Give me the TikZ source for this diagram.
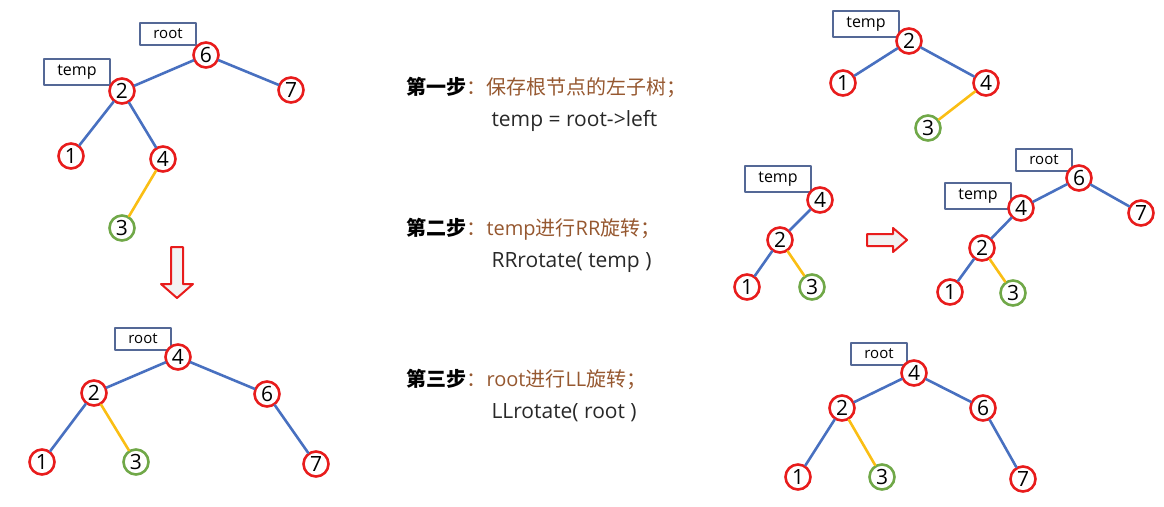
\documentclass[tikz,border=0pt]{standalone}
\usepackage{fontspec}
\newfontfamily\cjk{Noto Sans CJK SC}
\newfontfamily\latin{Open Sans}
\usetikzlibrary{positioning}
\definecolor{nodered}{RGB}{232,28,28}
\definecolor{leafgreen}{RGB}{112,168,72}
\definecolor{edgeblue}{RGB}{72,112,192}
\definecolor{edgegold}{RGB}{250,190,20}
\definecolor{boxblue}{RGB}{84,104,150}
\definecolor{stepbrown}{RGB}{150,88,48}
\definecolor{codegray}{RGB}{40,40,40}

\begin{document}
\begin{tikzpicture}[x=1pt,y=-1pt, line cap=round, line join=round,
  num/.style={circle, draw=nodered, line width=2.6pt, fill=white, minimum size=25pt,
    inner sep=0pt, font=\latin\fontsize{21}{21}\selectfont},
  leaf/.style={num, draw=leafgreen},
  tag/.style={draw=boxblue, line width=1.2pt, fill=white, minimum width=66pt,
    minimum height=26pt, inner sep=0pt, font=\latin\fontsize{16}{16}\selectfont},
  rtag/.style={tag, minimum width=56pt, minimum height=22pt,
    font=\latin\fontsize{15}{15}\selectfont},
  blue/.style={draw=edgeblue, line width=2.6pt},
  gold/.style={draw=edgegold, line width=2.6pt},
  stepline/.style={anchor=west, font=\cjk\fontsize{20}{20}\selectfont},
  codeline/.style={anchor=west, text=codegray, font=\latin\fontsize{21}{21}\selectfont},
  hollow/.style={draw=nodered, line width=2pt, fill=gray!10}]
\useasboundingbox (0,0) rectangle (1164,506);

% Tree before (top left)
\node[rtag] (aroot) at (168,34) {root};
\node[tag] (atemp) at (77,72) {temp};
\node[num] (a6) at (206,55) {6};
\node[num] (a2) at (122,91) {2};
\node[num] (a7) at (291,90) {7};
\node[num] (a1) at (71,156) {1};
\node[num] (a4) at (163,159) {4};
\node[leaf] (a3) at (122,228) {3};
\draw[blue] (a6) -- (a2);
\draw[blue] (a6) -- (a7);
\draw[blue] (a2) -- (a1);
\draw[blue] (a2) -- (a4);
\draw[gold] (a4) -- (a3);

% Down arrow
\draw[hollow] (171,247) -- (183,247) -- (183,284) -- (193,284) -- (177,298)
  -- (161,284) -- (171,284) -- cycle;

% Tree after (bottom left)
\node[rtag] (broot) at (143,339) {root};
\node[num] (b4) at (178,357) {4};
\node[num] (b2) at (94,393) {2};
\node[num] (b6) at (267,394) {6};
\node[num] (b1) at (42,462) {1};
\node[leaf] (b3) at (136,462) {3};
\node[num] (b7) at (316,464) {7};
\draw[blue] (b4) -- (b2);
\draw[blue] (b4) -- (b6);
\draw[blue] (b2) -- (b1);
\draw[gold] (b2) -- (b3);
\draw[blue] (b6) -- (b7);

% Steps
\node[stepline] (s1) at (403,87) {{\bfseries 第一步}\textcolor{stepbrown}{：保存根节点的左子树；}};
\node[codeline] (c1) at (488,121) {temp = root->left};
\node[stepline] (s2) at (403,229) {{\bfseries 第二步}\textcolor{stepbrown}{：{\latin temp}进行{\latin RR}旋转；}};
\node[codeline] (c2) at (488,263) {RRrotate( temp )};
\node[stepline] (s3) at (403,379) {{\bfseries 第三步}\textcolor{stepbrown}{：{\latin root}进行{\latin LL}旋转；}};
\node[codeline] (c3) at (488,413) {LLrotate( root )};

% Step 1 (top right)
\node[tag] (ctemp) at (866,24) {temp};
\node[num] (c2n) at (909,41) {2};
\node[num] (c1n) at (843,83) {1};
\node[num] (c4n) at (986,83) {4};
\node[leaf] (c3n) at (928,128) {3};
\draw[blue] (c2n) -- (c1n);
\draw[blue] (c2n) -- (c4n);
\draw[gold] (c4n) -- (c3n);

% Step 2, rotated subtree
\node[tag] (dtemp) at (778,179) {temp};
\node[num] (d4) at (820,200) {4};
\node[num] (d2) at (780,240) {2};
\node[num] (d1) at (747,287) {1};
\node[leaf] (d3) at (812,287) {3};
\draw[blue] (d4) -- (d2);
\draw[blue] (d2) -- (d1);
\draw[gold] (d2) -- (d3);

% Right arrow
\draw[hollow] (867,234) -- (893,234) -- (893,228) -- (907,240) -- (893,252)
  -- (893,246) -- (867,246) -- cycle;

% Step 2, whole tree
\node[rtag] (eroot) at (1044,160) {root};
\node[tag] (etemp) at (978,196) {temp};
\node[num] (e6) at (1079,178) {6};
\node[num] (e4) at (1021,208) {4};
\node[num] (e7) at (1141,213) {7};
\node[num] (e2) at (982,248) {2};
\node[num] (e1) at (950,292) {1};
\node[leaf] (e3) at (1013,293) {3};
\draw[blue] (e6) -- (e4);
\draw[blue] (e6) -- (e7);
\draw[blue] (e4) -- (e2);
\draw[blue] (e2) -- (e1);
\draw[gold] (e2) -- (e3);

% Step 3 (bottom right)
\node[rtag] (froot) at (879,354) {root};
\node[num] (f4) at (914,373) {4};
\node[num] (f2) at (842,408) {2};
\node[num] (f6) at (983,408) {6};
\node[num] (f1) at (798,477) {1};
\node[leaf] (f3) at (882,477) {3};
\node[num] (f7) at (1023,479) {7};
\draw[blue] (f4) -- (f2);
\draw[blue] (f4) -- (f6);
\draw[blue] (f2) -- (f1);
\draw[gold] (f2) -- (f3);
\draw[blue] (f6) -- (f7);
\end{tikzpicture}
\end{document}
